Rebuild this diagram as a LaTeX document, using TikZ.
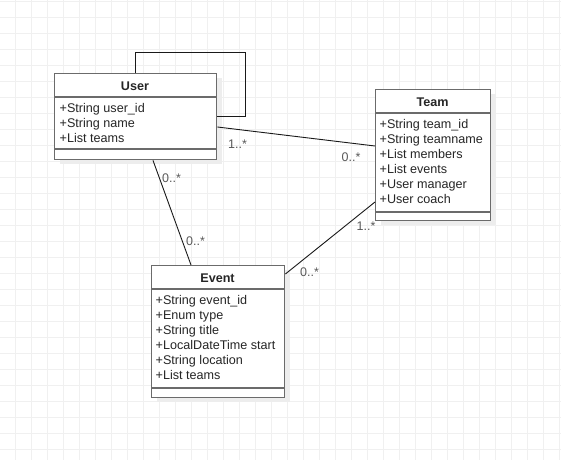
\documentclass[tikz,border=0pt]{standalone}
\usepackage{fontspec}
\setmainfont{Liberation Sans}
\usetikzlibrary{calc}
\tikzset{
  gridline/.style={draw=black!6, line width=0.8pt},
  classshade/.style={fill=black!7},
  classbox/.style={rectangle, draw=black!58, line width=1.4pt, fill=white, inner sep=0pt, anchor=north west},
  classline/.style={draw=black!58, line width=1.4pt},
  classtitle/.style={font=\fontsize{12.6}{15}\selectfont\bfseries, text=black!85, inner sep=0pt, anchor=base},
  attrlist/.style={font=\fontsize{12.6}{15}\selectfont, text=black!85, align=left, inner sep=0pt, anchor=base west},
  assoc/.style={draw=black!90, line width=0.9pt},
  mult/.style={font=\fontsize{12.5}{15}\selectfont, text=black!65, inner sep=0pt, anchor=base west},
}
\begin{document}
\begin{tikzpicture}[x=1pt,y=-1pt]
\useasboundingbox (0,0) rectangle (561,460);
\fill[white] (0,0) rectangle (561,460);
% background grid
\foreach \gx in {15.7,31.7,...,560} \draw[gridline] (\gx,0) -- (\gx,460);
\foreach \gy in {1.3,17.3,...,460} \draw[gridline] (0,\gy) -- (561,\gy);
% shadows
\fill[classshade] (60,78) rectangle (222,164);
\fill[classshade] (381,94) rectangle (496,225);
\fill[classshade] (157,270) rectangle (290,402);
% User
\node[classbox, minimum width=162, minimum height=86] (user) at (54,73) {};
\node[classtitle] (usertitle) at (135,90.3) {User};
\draw[classline] (54,97) -- (216,97);
% base anchor = last line
\node[attrlist] (userattrs) at (59.5,142.7) {+String user\_id\\+String name\\+List teams};
\draw[classline] (54,149) -- (216,149);
% Team
\node[classbox, minimum width=115, minimum height=131] (team) at (375,89) {};
\node[classtitle] (teamtitle) at (432.5,106.3) {Team};
\draw[classline] (375,113) -- (490,113);
\node[attrlist] (teamattrs) at (379.5,203.4) {+String team\_id\\+String teamname\\+List members\\+List events\\+User manager\\+User coach};
\draw[classline] (375,212) -- (490,212);
% Event
\node[classbox, minimum width=133, minimum height=132] (event) at (151,265) {};
\node[classtitle] (eventtitle) at (217.5,282.3) {Event};
\draw[classline] (151,289) -- (284,289);
\node[attrlist] (eventattrs) at (155.5,379.4) {+String event\_id\\+Enum type\\+String title\\+LocalDateTime start\\+String location\\+List teams};
\draw[classline] (151,388) -- (284,388);
% associations
\draw[assoc] ($(user.north west)+(81,0)$) |- (245,52) |- ($(user.north east)+(0,43)$);
\draw[assoc] ($(user.north east)+(0,54)$) -- ($(team.north west)+(0,57)$);
\draw[assoc] ($(user.south west)+(99,0)$) -- ($(event.north west)+(40,0)$);
\draw[assoc] ($(team.north west)+(0,113)$) -- ($(event.north east)+(0,9)$);
% multiplicities
\node[mult] (ut1) at (228,148) {1..*};
\node[mult] (ut2) at (341.5,161.7) {0..*};
\node[mult] (ue1) at (162,182.3) {0..*};
\node[mult] (ue2) at (186,245.3) {0..*};
\node[mult] (te1) at (356.5,230.7) {1..*};
\node[mult] (te2) at (300,276.7) {0..*};
\end{tikzpicture}
\end{document}
